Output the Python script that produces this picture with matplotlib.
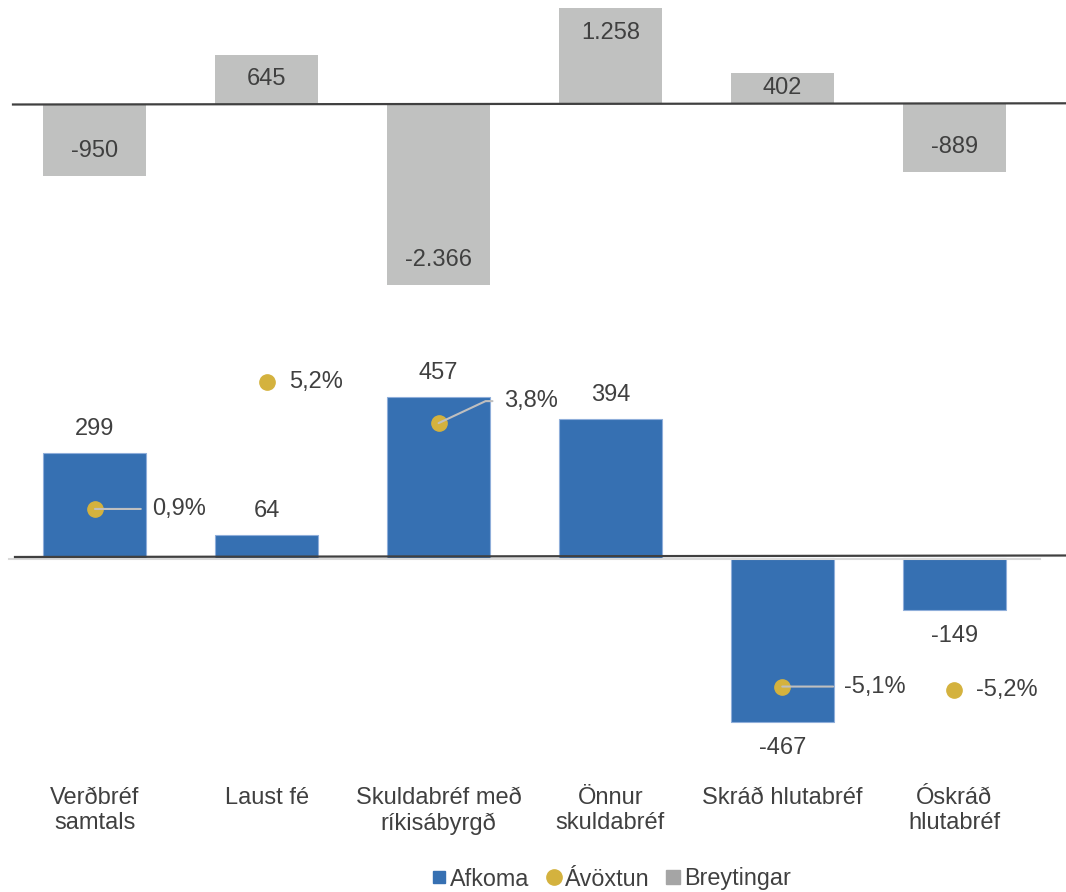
import numpy as np
import matplotlib
matplotlib.use("Agg")
import matplotlib.pyplot as plt
from matplotlib.lines import Line2D

plt.rcParams["font.family"] = ["Liberation Sans", "DejaVu Sans"]

# ---- data ----
categories = ["Verðbréf\nsamtals", "Laust fé", "Skuldabréf með\nríkisábyrgð",
              "Önnur\nskuldabréf", "Skráð hlutabréf", "Óskráð\nhlutabréf"]
breytingar = [-950, 645, -2366, 1258, 402, -889]
afkoma = [299, 64, 457, 394, -467, -149]
avoxtun = [0.9, 5.2, 3.8, np.nan, -5.1, -5.2]

# label placement for the return labels (pixels from the dot) and leader flags
pct_offsets = [(57, 0), (22, 0), (65, 22), (0, 0), (62, 0), (22, 0)]
pct_leader = [True, False, True, False, True, False]

BLUE = "#3670B2"
GOLD = "#D4B23E"
GRAY = "#C0C1C0"
TXT = "#404040"

W, H = 1066, 892
fig = plt.figure(figsize=(W / 100, H / 100), dpi=100)

x = np.arange(len(categories))
left, width = 9 / W, 1031 / W


def lims(top_px, bot_px, zero_px, px_per_unit):
    return (-(bot_px - zero_px) / px_per_unit, (zero_px - top_px) / px_per_unit)


def fmt_int(v):
    return f"{v:,}".replace(",", ".")


def fmt_pct(v):
    return f"{v:.1f}%".replace(".", ",")


# ---- top panel: Breytingar ----
ax_t = fig.add_axes([left, 1 - 330 / H, width, 330 / H])
ax_t.bar(x, breytingar, width=0.6, color=GRAY, zorder=2)
ax_t.set_xlim(-0.5, len(x) - 0.5)
ax_t.set_ylim(*lims(0, 330, 103.8, 0.0764))
ax_t.axis("off")
for i, v in enumerate(breytingar):
    y0 = ax_t.transData.transform((0, 0))[1]
    y1 = ax_t.transData.transform((0, v))[1]
    off = min(25, abs(y1 - y0) / 2)
    ax_t.annotate(fmt_int(v), (i, v), xytext=(0, -off if v > 0 else off),
                  textcoords="offset pixels", ha="center", va="center",
                  fontsize=17, color=TXT, zorder=5)

# ---- bottom panel: Afkoma + Ávöxtun ----
ax_b = fig.add_axes([left, 1 - 770 / H, width, 440 / H])
ax_b.bar(x, afkoma, width=0.6, color=BLUE, edgecolor="#8FAEDA",
         linewidth=0.8, zorder=2)
ax_b.set_xlim(-0.5, len(x) - 0.5)
ax_b.set_ylim(*lims(330, 770, 557.6, 0.351))
ax_b.axis("off")
for i, v in enumerate(afkoma):
    ax_b.annotate(fmt_int(v), (i, v), xytext=(0, 24 if v > 0 else -26),
                  textcoords="offset pixels", ha="center", va="center",
                  fontsize=17, color=TXT, zorder=5)

ax_r = ax_b.twinx()
ax_r.set_position([left, 1 - 770 / H, width, 440 / H])
ax_r.set_xlim(-0.5, len(x) - 0.5)
ax_r.set_ylim(*lims(330, 770, 535.6, 29.6))
ax_r.axis("off")
ax_r.plot(x, avoxtun, linestyle="none", marker="o", markersize=11,
          color=GOLD, zorder=3)
for i, v in enumerate(avoxtun):
    if np.isnan(v):
        continue
    dx, dy = pct_offsets[i]
    arrow = None
    if pct_leader[i]:
        cs = "arc3" if dy == 0 else f"angle,angleA=0,angleB={np.degrees(np.arctan2(dy, dx - 18)):.1f},rad=0"
        arrow = dict(arrowstyle="-", color="#BFBFBF", lw=1.5, shrinkA=6,
                     shrinkB=0, connectionstyle=cs)
    ax_r.annotate(fmt_pct(v), (i, v), xytext=(dx, dy), textcoords="offset pixels",
                  ha="left", va="center", fontsize=17, color=TXT,
                  arrowprops=arrow, zorder=6)

# ---- zero lines ----
fig.add_artist(Line2D([9 / W, 1040 / W], [1 - 558.7 / H] * 2, color="#D9D9D9", lw=1.5))
fig.add_artist(Line2D([13 / W, 1], [1 - 104.5 / H, 1 - 103.3 / H], color="#404040", lw=1.6))
fig.add_artist(Line2D([15 / W, 1], [1 - 557 / H, 1 - 555.5 / H], color="#404040", lw=1.6))

# ---- category labels ----
for i, c in enumerate(categories):
    px = ax_b.transData.transform((i, 0))[0] / W
    fig.text(px, 1 - 787 / H, c, ha="center", va="top", fontsize=17,
             color=TXT, multialignment="center")

# ---- legend ----
handles = [
    Line2D([], [], linestyle="none", marker="s", markersize=9, color=BLUE),
    Line2D([], [], linestyle="none", marker="o", markersize=11, color=GOLD),
    Line2D([], [], linestyle="none", marker="s", markersize=9.5, color="#A5A5A5"),
]
fig.legend(handles, ["Afkoma", "Ávöxtun", "Breytingar"], loc="center",
           bbox_to_anchor=(612 / W, 1 - 879 / H), ncol=3, frameon=False,
           fontsize=16.8, handlelength=0.55, handletextpad=0.2, columnspacing=0.75,
           borderpad=0, labelcolor=TXT)

fig.savefig("out.png", dpi=100)
